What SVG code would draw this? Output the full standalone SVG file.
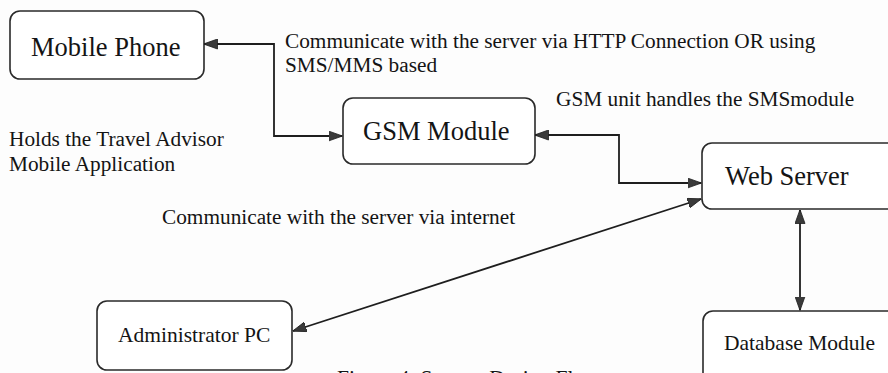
<svg xmlns="http://www.w3.org/2000/svg" width="888" height="373" viewBox="0 0 888 373">
  <defs>
    <style>
      .box { fill: #ffffff; stroke: #2a2a2a; stroke-width: 1.6; }
      .title { font-family: "Liberation Serif", "Times New Roman", serif; font-size: 26.5px; fill: #141414; }
      .small { font-family: "Liberation Serif", "Times New Roman", serif; font-size: 21.5px; fill: #141414; }
      .label { font-family: "Liberation Serif", "Times New Roman", serif; font-size: 21.3px; fill: #141414; }
      .conn { fill: none; stroke: #1e1e1e; stroke-width: 1.8; }
    </style>
    <marker id="arrow" viewBox="0 0 14 11" refX="13.5" refY="5.5" markerWidth="14" markerHeight="11" markerUnits="userSpaceOnUse" orient="auto-start-reverse">
      <path d="M0,0.5 L14,5.5 L0,10.5 Z" fill="#3a3a3a" stroke="#1e1e1e" stroke-width="0.8"/>
    </marker>
  </defs>
  <rect width="888" height="373" fill="#fdfdfd"/>

  <g id="mobile-phone">
    <rect class="box" x="10" y="11" width="194" height="68" rx="10"/>
    <text class="title" x="31" y="56">Mobile Phone</text>
  </g>
  <g id="gsm-module">
    <rect class="box" x="343" y="98" width="192" height="66" rx="10"/>
    <text class="title" x="363" y="140">GSM Module</text>
  </g>
  <g id="web-server">
    <rect class="box" x="702" y="143" width="210" height="66" rx="10"/>
    <text class="title" x="725" y="185">Web Server</text>
  </g>
  <g id="administrator-pc">
    <rect class="box" x="97" y="301" width="195" height="69" rx="10"/>
    <text class="small" x="118" y="342">Administrator PC</text>
  </g>
  <g id="database-module">
    <rect class="box" x="703" y="311" width="210" height="90" rx="10"/>
    <text class="small" x="724" y="350">Database Module</text>
  </g>

  <g id="connectors">
    <path class="conn" d="M204,44 H274 V136 H342" marker-start="url(#arrow)" marker-end="url(#arrow)"/>
    <path class="conn" d="M535,135 H619 V183 H701" marker-start="url(#arrow)" marker-end="url(#arrow)"/>
    <path class="conn" d="M293,331 L701,199" marker-start="url(#arrow)" marker-end="url(#arrow)"/>
    <path class="conn" d="M800,210 V310" marker-start="url(#arrow)" marker-end="url(#arrow)"/>
  </g>

  <g id="labels">
    <text class="label" x="285" y="48">Communicate with the server via HTTP Connection OR using</text>
    <text class="label" x="285" y="72">SMS/MMS based</text>
    <text class="label" x="556" y="106">GSM unit handles the SMSmodule</text>
    <text class="label" x="9" y="146">Holds the Travel Advisor</text>
    <text class="label" x="9" y="171">Mobile Application</text>
    <text class="label" x="162" y="224">Communicate with the server via internet</text>
    <text class="small" x="337" y="385">Figure 4: System Design Flow</text>
  </g>
</svg>
